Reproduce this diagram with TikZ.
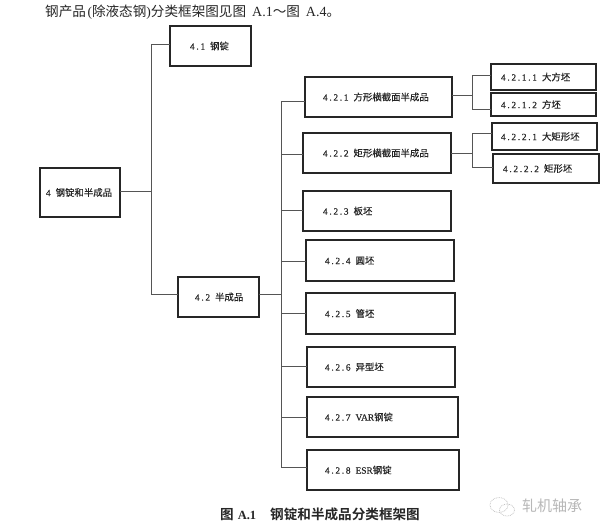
\documentclass[tikz,border=0pt]{standalone}
\usepackage{fontspec}
\setmainfont{Liberation Serif}
\newfontfamily\cjk[FakeBold=0.25]{Noto Sans CJK SC}
\newfontfamily\cjkhead{Noto Sans CJK SC}
\newfontfamily\cjkb{Noto Sans CJK SC Bold}
\newfontfamily\numf[LetterSpace=18,FakeBold=0.3]{Liberation Serif}
\newfontfamily\latf[FakeBold=0.3]{Liberation Serif}
\newcommand\lb[2]{{\numf #1}\hspace{5pt}{\cjk #2}}
\definecolor{ink}{HTML}{262626}
\definecolor{wire}{HTML}{555555}
\definecolor{wmgray}{HTML}{B8B8B8}
\tikzset{
  bx/.style n args={3}{draw=ink,line width=1.1pt,inner xsep=0pt,inner ysep=0pt,outer sep=0pt,
    anchor=north west,text=ink,align=left,text width=#1 pt,minimum height=#2 pt,
    font=\fontsize{9.4}{11}\selectfont,execute at begin node={\hspace*{#3 pt}}},
  conn/.style={draw=wire,line width=0.9pt,line join=miter},
  txt/.style={inner sep=0pt,anchor=west,text=ink},
  wmline/.style={draw=wmgray,line width=0.7pt,densely dotted}
}
\begin{document}
\begin{tikzpicture}[x=1pt,y=-1pt]
\useasboundingbox[fill=white] (0,0) rectangle (600,532);
% boxes
\node[bx={81}{40}{20}] (n41) at (170,26) {\lb{4.1}{钢锭}};
\node[bx={80}{49}{6}] (n4) at (40,168) {\lb{4}{钢锭和半成品}};
\node[bx={81}{40}{17}] (n42) at (178,277) {\lb{4.2}{半成品}};
\node[bx={147}{40}{18}] (n421) at (305,77) {\lb{4.2.1}{方形横截面半成品}};
\node[bx={148}{40}{20}] (n422) at (303,133) {\lb{4.2.2}{矩形横截面半成品}};
\node[bx={148}{40}{20}] (n423) at (303,191) {\lb{4.2.3}{板坯}};
\node[bx={148}{41}{19}] (n424) at (306,240) {\lb{4.2.4}{圆坯}};
\node[bx={149}{41}{19}] (n425) at (306,293) {\lb{4.2.5}{管坯}};
\node[bx={148}{40}{18}] (n426) at (307,347) {\lb{4.2.6}{异型坯}};
\node[bx={151}{40}{18}] (n427) at (307,397) {{\numf 4.2.7}\hspace{5pt}{\latf VAR}{\cjk 钢锭}};
\node[bx={152}{40}{18}] (n428) at (307,450) {{\numf 4.2.8}\hspace{5pt}{\latf ESR}{\cjk 钢锭}};
\node[bx={105}{26}{10}] (n4211) at (491,64) {\lb{4.2.1.1}{大方坯}};
\node[bx={105}{23}{10}] (n4212) at (491,93) {\lb{4.2.1.2}{方坯}};
\node[bx={105}{27}{9}] (n4221) at (492,123) {\lb{4.2.2.1}{大矩形坯}};
\node[bx={106}{29}{10}] (n4222) at (493,154) {\lb{4.2.2.2}{矩形坯}};
% trunks
\coordinate (ta) at (151.5,0);
\coordinate (tb) at (281,0);
\coordinate (tc) at (472,0);
% attachment points
\coordinate (p41) at ([yshift=2pt]n41.west);
\coordinate (p4) at ([yshift=1pt]n4.east);
\coordinate (p42) at ([yshift=3pt]n42.west);
\coordinate (q42) at ([yshift=3pt]n42.east);
\coordinate (p421) at ([yshift=-4pt]n421.west);
\coordinate (q421) at ([yshift=2pt]n421.east);
\coordinate (p422) at ([yshift=-1pt]n422.west);
\coordinate (q422) at (n422.east);
\coordinate (p423) at ([yshift=1pt]n423.west);
\coordinate (p424) at ([yshift=-0.5pt]n424.west);
\coordinate (p425) at ([yshift=0.5pt]n425.west);
\coordinate (p426) at ([yshift=1pt]n426.west);
\coordinate (p427) at (n427.west);
\coordinate (p428) at ([yshift=3pt]n428.west);
\coordinate (p4211) at ([yshift=2pt]n4211.west);
\coordinate (p4212) at ([yshift=-4.5pt]n4212.west);
\coordinate (p4221) at ([yshift=3.5pt]n4221.west);
\coordinate (p4222) at ([yshift=1.5pt]n4222.west);
% connectors
\draw[conn] (p41) -- (p41 -| ta) -- (p42 -| ta) -- (p42);
\draw[conn] (p4) -- (p4 -| ta);
\draw[conn] (p421) -- (p421 -| tb) -- (p428 -| tb) -- (p428);
\draw[conn] (q42) -- (q42 -| tb);
\foreach \k in {p422,p423,p424,p425,p426,p427} \draw[conn] (\k) -- (\k -| tb);
\draw[conn] (p4211) -- (p4211 -| tc) -- (p4212 -| tc) -- (p4212);
\draw[conn] (q421) -- (q421 -| tc);
\draw[conn] (p4221) -- (p4221 -| tc) -- (p4222 -| tc) -- (p4222);
\draw[conn] (q422) -- (q422 -| tc);
% header and caption
\node[txt,font=\fontsize{13.6}{14}\selectfont] (head) at (45,12.5)
  {\cjkhead 钢产品\hspace{1.5pt}{\rmfamily(}除液态钢{\rmfamily)}分类框架图见图\hspace{6pt}{\rmfamily\fontsize{14}{14}\selectfont A.1}～图\hspace{6pt}{\rmfamily\fontsize{14}{14}\selectfont A.4}。};
\node[txt,font=\fontsize{13.6}{15}\selectfont] (cap) at (220,514.5)
  {{\cjkb 图}\hspace{4pt}{\bfseries\fontsize{12.5}{15}\selectfont A.1}\hspace{14pt}{\cjkb 钢锭和半成品分类框架图}};
% watermark
\node[txt,text=wmgray,font=\fontsize{15}{16}\selectfont\cjkhead] (wm) at (522,506) {轧机轴承};
\draw[wmline] (499,505) ellipse (9 and 7.5);
\draw[wmline] (507,510) ellipse (7.5 and 6);
\end{tikzpicture}
\end{document}
